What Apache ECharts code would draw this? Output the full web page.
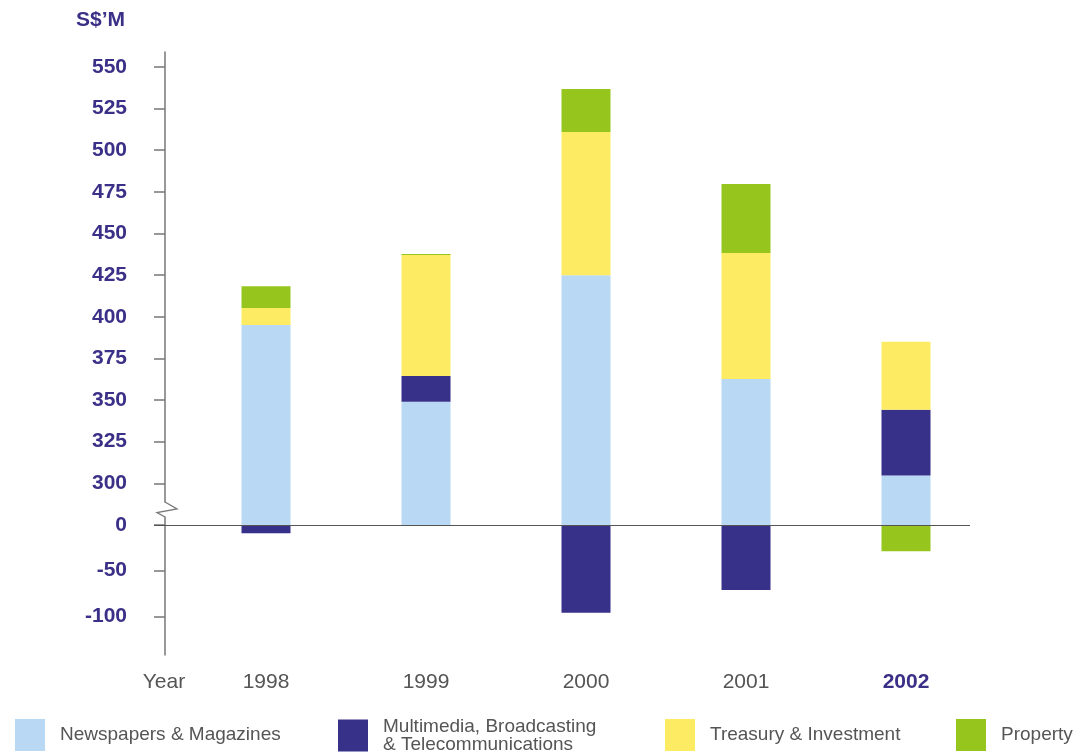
<!DOCTYPE html>
<html><head><meta charset="utf-8">
<script src="https://cdn.jsdelivr.net/npm/echarts@6/dist/echarts.min.js"></script>
<style>html,body{margin:0;padding:0;background:#fff}#c{width:1075px;height:754px}</style>
</head><body><div id="c"></div>
<script>
const years = ['1998','1999','2000','2001','2002'];
const seriesNames = ['Newspapers & Magazines','Multimedia, Broadcasting & Telecommunications','Treasury & Investment','Property'];
const newspapers = [395, 349, 425, 362.6, 304.6];
const multimedia = [-9, 15.5, -96, -71, 39.5];
const treasury = [10.3, 72.6, 86, 75.7, 40.9];
const property = [13, 0.6, 25.8, 41.5, -28.7];
const yTickLabels = [550, 525, 500, 475, 450, 425, 400, 375, 350, 325, 300, 0, -50, -100];
const colors = ['#b8d8f3', '#383189', '#fdec63', '#96c61e'];

// broken-axis transform: real value -> display units
function d(v) {
  if (v >= 300) return 1 + (v - 300) / 25;
  if (v >= 0) return v / 300;
  return v / 50 * 1.1;
}
const raw = [newspapers, multimedia, treasury, property];
const disp = raw.map(() => []);
for (let j = 0; j < years.length; j++) {
  let pos = 0, neg = 0;
  for (let s = 0; s < raw.length; s++) {
    const v = raw[s][j];
    if (v >= 0) { disp[s][j] = d(pos + v) - d(pos); pos += v; }
    else { disp[s][j] = d(neg + v) - d(neg); neg += v; }
  }
}
const tickDisp = yTickLabels.map(d);
function labelFor(v) {
  let best = 0, bd = Infinity;
  tickDisp.forEach((t, i) => { const dd = Math.abs(t - v); if (dd < bd) { bd = dd; best = i; } });
  return String(yTickLabels[best]);
}

const chart = echarts.init(document.getElementById('c'));
const FONT = '"Liberation Sans", Arial, sans-serif';
const navy = '#3b3087';
const legendLefts = [15, 338, 665, 956];
const option = {
  animation: false,
  textStyle: { fontFamily: FONT },
  grid: { left: 186, right: 89, top: 52, bottom: 99 },
  legend: seriesNames.map((n, i) => ({
    data: [n], left: legendLefts[i], top: i === 1 ? 717 : 719, padding: 0, icon: 'rect', itemWidth: 30, itemHeight: 32,
    selectedMode: false,
    formatter: (name) => name === seriesNames[1] ? 'Multimedia, Broadcasting\n& Telecommunications' : name,
    textStyle: { fontFamily: FONT, fontSize: 19, color: '#555', lineHeight: 18, padding: [0, 0, 0, 10] }
  })),
  xAxis: {
    type: 'category', data: years, position: 'bottom',
    axisLine: { show: false },
    axisTick: { show: true, alignWithLabel: true, inside: true, length: 10, lineStyle: { color: '#888', width: 1.5 } },
    axisLabel: {
      margin: 17, fontSize: 21, color: '#555', fontFamily: FONT,
      formatter: (v) => v === '2002' ? '{b|' + v + '}' : v,
      rich: { b: { fontSize: 21, fontWeight: 'bold', color: navy, fontFamily: FONT } }
    },
    splitLine: { show: false }
  },
  yAxis: {
    type: 'value', min: -3.125, max: 11.36, offset: 21,
    axisLine: { show: true, lineStyle: { color: '#777', width: 1.5 } },
    axisTick: { show: true, length: 11, customValues: tickDisp, lineStyle: { color: '#777', width: 1.5 } },
    axisLabel: { customValues: tickDisp, formatter: labelFor, margin: 38, fontSize: 21, fontWeight: 'bold', color: navy, fontFamily: FONT },
    splitLine: { show: false }
  },
  series: seriesNames.map((n, i) => ({
    name: n, type: 'bar', stack: 'total', barWidth: 49, data: disp[i],
    itemStyle: { color: colors[i] },
    markLine: i === 0 ? {
      silent: true, symbol: 'none', label: { show: false },
      lineStyle: { color: '#555', width: 1.2, type: 'solid' },
      data: [[{ x: 154, yAxis: 0 }, { x: 970, yAxis: 0 }]]
    } : undefined
  }))
};
chart.setOption(option);

const yb = chart.convertToPixel({ yAxisIndex: 0 }, 0.37);
const ax = 165;
chart.setOption({
  graphic: [
    { type: 'text', left: 76, top: 10, style: { text: 'S$\u2019M', font: 'bold 21px ' + FONT, fill: navy } },
    { type: 'text', x: 164, y: 682, style: { text: 'Year', font: '21px ' + FONT, fill: '#555', align: 'center', verticalAlign: 'middle' } },
    { type: 'rect', shape: { x: ax - 3, y: yb - 7, width: 6, height: 14 }, style: { fill: '#fff' }, z: 100 },
    { type: 'polyline', shape: { points: [[ax, yb - 7.5], [ax + 12, yb - 0.5], [ax - 8, yb + 3], [ax, yb + 7.5]] },
      style: { stroke: '#777', lineWidth: 1.3, fill: null }, z: 101 }
  ]
});
</script></body></html>
